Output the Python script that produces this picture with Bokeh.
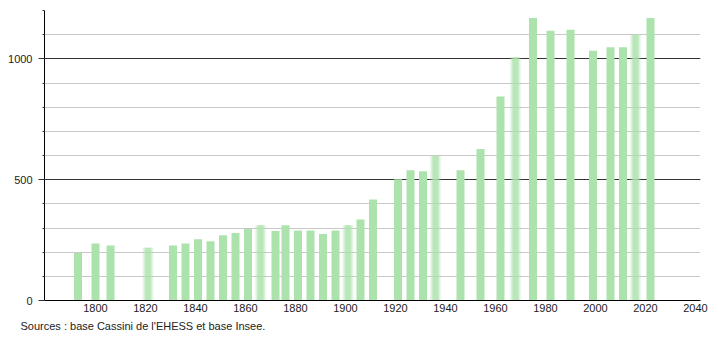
from bokeh.plotting import figure
from bokeh.models import Range1d, FixedTicker, Grid, Title
from bokeh.embed import file_html
from bokeh.resources import INLINE

years = [1793, 1800, 1806, 1821, 1831, 1836, 1841, 1846, 1851, 1856, 1861, 1866,
         1872, 1876, 1881, 1886, 1891, 1896, 1901, 1906, 1911, 1921, 1926, 1931,
         1936, 1946, 1954, 1962, 1968, 1975, 1982, 1990, 1999, 2006, 2011, 2016, 2022]
population = [198, 236, 228, 218, 228, 236, 253, 245, 270, 279, 296, 311,
              288, 311, 290, 290, 275, 290, 311, 335, 418, 502, 539, 535,
              599, 539, 627, 844, 1007, 1169, 1116, 1120, 1033, 1048, 1048, 1100, 1169]
blurred_years = [1821, 1866, 1901, 1936, 1968, 2016]
x_ticks = list(range(1800, 2041, 20))
y_major = [0, 500, 1000]
y_minor = list(range(0, 1201, 100))

BAR = "#ace3ac"
BAR_W = 3.2

p = figure(width=710, height=340, output_backend="svg", toolbar_location=None,
           x_range=Range1d(1779.6, 2042), y_range=Range1d(0, 1200),
           min_border_left=44, min_border_right=10, min_border_top=10,
           min_border_bottom=40)
p.outline_line_color = None
p.background_fill_color = "white"
p.border_fill_color = "white"

# grids
p.xgrid.visible = False
p.ygrid.ticker = FixedTicker(ticks=y_minor)
p.ygrid.grid_line_color = "#c8c8c8"
p.ygrid.grid_line_width = 1
major_grid = Grid(dimension=1, ticker=FixedTicker(ticks=y_major[1:]),
                  grid_line_color="#333333", grid_line_width=1)
p.add_layout(major_grid)

# sharp bars
sharp_x = [y for y in years if y not in blurred_years]
sharp_v = [v for y, v in zip(years, population) if y not in blurred_years]
p.vbar(x=sharp_x, top=sharp_v, bottom=0, width=BAR_W, fill_color=BAR,
       line_color=None)

# blurred bars (soft edges)
blur_x = [y for y in years if y in blurred_years]
blur_v = [v for y, v in zip(years, population) if y in blurred_years]
for w, a in [(4.6, 0.18), (3.8, 0.25), (3.0, 0.35), (2.2, 0.6)]:
    p.vbar(x=blur_x, top=blur_v, bottom=0, width=w, fill_color=BAR,
           fill_alpha=a, line_color=None)

# axes
p.xaxis.ticker = FixedTicker(ticks=x_ticks)
p.xaxis.major_tick_out = 0
p.xaxis.major_tick_in = 0
p.xaxis.minor_tick_out = 0
p.xaxis.axis_line_color = "black"
p.xaxis.major_label_standoff = 3
p.xaxis.major_label_text_font = "Liberation Sans"
p.xaxis.major_label_text_font_size = "11px"
p.xaxis.major_label_text_color = "#222222"

p.yaxis.ticker = FixedTicker(ticks=y_major, minor_ticks=y_minor)
p.yaxis.major_tick_out = 6
p.yaxis.major_tick_in = 0
p.yaxis.minor_tick_out = 2
p.yaxis.minor_tick_in = 0
p.yaxis.major_tick_line_color = "#333333"
p.yaxis.minor_tick_line_color = "#333333"
p.yaxis.axis_line_color = "black"
p.yaxis.major_label_standoff = 6
p.yaxis.major_label_text_font = "Liberation Sans"
p.yaxis.major_label_text_font_size = "11px"
p.yaxis.major_label_text_color = "#222222"

src = Title(text="Sources : base Cassini de l'EHESS et base Insee.", align="left",
            text_font="Liberation Sans", text_font_size="11px",
            text_font_style="normal", text_color="#222222", offset=-24,
            standoff=7)
p.add_layout(src, "below")

open("out.html", "w").write(file_html(p, INLINE))
